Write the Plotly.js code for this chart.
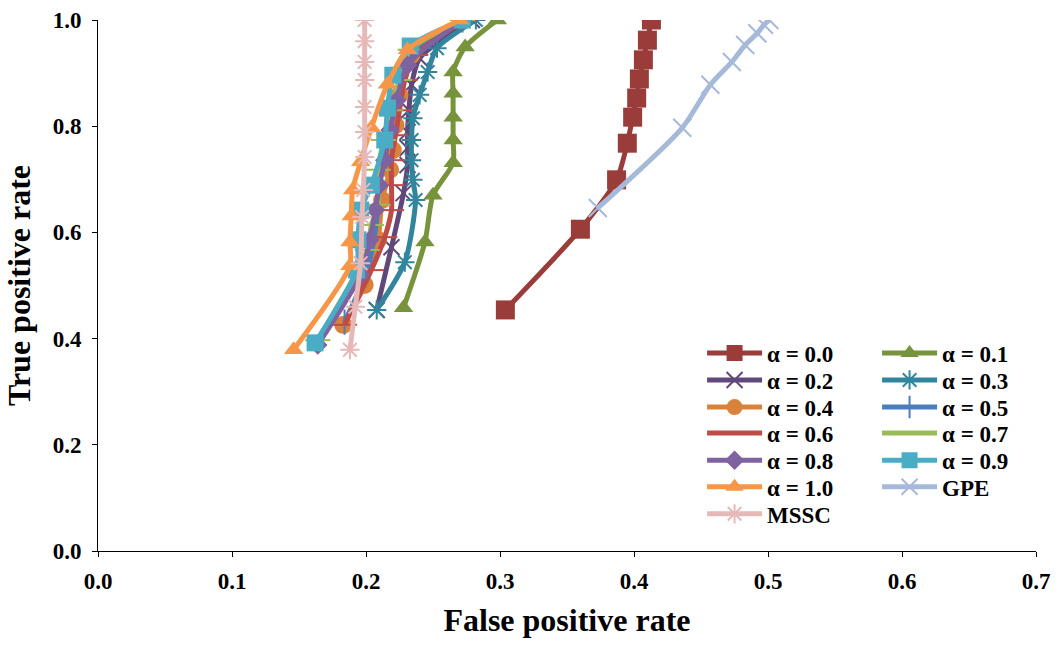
<!DOCTYPE html>
<html><head><meta charset="utf-8">
<script src="https://cdn.plot.ly/plotly-3.0.1.min.js"></script>
<style>html,body{margin:0;padding:0;background:#fff}#chart{width:1059px;height:648px}</style>
</head><body><div id="chart"></div>
<script>
// series data (false positive rate, true positive rate)
const a00_x = [0.304,0.360,0.387,0.395,0.399,0.402,0.404,0.407,0.410,0.413];
const a00_y = [0.454,0.606,0.699,0.768,0.817,0.853,0.889,0.925,0.962,1.000];
const a01_x = [0.228,0.244,0.250,0.265,0.265,0.265,0.265,0.265,0.274,0.298];
const a01_y = [0.458,0.582,0.670,0.731,0.774,0.817,0.862,0.902,0.949,1.000];
const a02_x = [0.208,0.219,0.228,0.231,0.231,0.231,0.232,0.234,0.240,0.279];
const a02_y = [0.454,0.572,0.674,0.727,0.759,0.789,0.830,0.878,0.928,1.000];
const a03_x = [0.208,0.229,0.237,0.235,0.234,0.234,0.235,0.240,0.246,0.253,0.282];
const a03_y = [0.454,0.544,0.661,0.699,0.736,0.774,0.815,0.859,0.902,0.947,1.000];
const a04_x = [0.183,0.199,0.209,0.212,0.218,0.220,0.222,0.225,0.234,0.272];
const a04_y = [0.426,0.501,0.586,0.661,0.718,0.755,0.802,0.859,0.934,1.000];
const a05_x = [0.184,0.201,0.207,0.209,0.210,0.212,0.216,0.222,0.231,0.272];
const a05_y = [0.431,0.529,0.605,0.652,0.699,0.736,0.793,0.849,0.925,1.000];
const a06_x = [0.184,0.204,0.214,0.219,0.219,0.219,0.222,0.225,0.229,0.237,0.274];
const a06_y = [0.426,0.529,0.591,0.642,0.689,0.736,0.783,0.830,0.887,0.934,1.000];
const a07_x = [0.164,0.192,0.201,0.204,0.209,0.209,0.213,0.218,0.225,0.233,0.272];
const a07_y = [0.397,0.520,0.567,0.614,0.652,0.718,0.774,0.830,0.887,0.944,1.000];
const a08_x = [0.164,0.196,0.203,0.207,0.210,0.214,0.218,0.223,0.231,0.272];
const a08_y = [0.388,0.520,0.586,0.642,0.689,0.736,0.793,0.849,0.915,1.000];
const a09_x = [0.162,0.193,0.194,0.196,0.204,0.214,0.216,0.220,0.233,0.272];
const a09_y = [0.392,0.529,0.586,0.642,0.689,0.774,0.834,0.896,0.951,1.000];
const a10_x = [0.146,0.188,0.188,0.189,0.190,0.196,0.204,0.216,0.231,0.270];
const a10_y = [0.379,0.537,0.582,0.631,0.680,0.733,0.797,0.879,0.944,1.000];
const gpe_x = [0.373,0.436,0.457,0.473,0.483,0.492,0.497,0.501];
const gpe_y = [0.646,0.797,0.878,0.921,0.953,0.975,0.991,1.000];
const mssc_x = [0.188,0.192,0.196,0.197,0.198,0.199,0.199,0.199,0.199,0.199,0.199,0.199];
const mssc_y = [0.379,0.460,0.542,0.629,0.680,0.742,0.789,0.836,0.887,0.921,0.960,1.000];
const names = ['α = 0.0','α = 0.1','α = 0.2','α = 0.3','α = 0.4','α = 0.5','α = 0.6','α = 0.7','α = 0.8','α = 0.9','α = 1.0','GPE','MSSC'];
const xticks = [0,0.1,0.2,0.3,0.4,0.5,0.6,0.7];
const yticks = [0,0.2,0.4,0.6,0.8,1.0];

const series = [
 [a00_x,a00_y,'#9A3D3A','square',19,true],
 [a01_x,a01_y,'#77933C','triangle-up',17,true],
 [a02_x,a02_y,'#60497A','x-thin',16,false],
 [a03_x,a03_y,'#31859C','asterisk-open',16,false],
 [a04_x,a04_y,'#D9823B','circle',18,true],
 [a05_x,a05_y,'#4A7EBB','line-ns',18,false],
 [a06_x,a06_y,'#BE4B48','line-ew',18,false],
 [a07_x,a07_y,'#9BBB59','line-ew',18,false],
 [a08_x,a08_y,'#7F63A0','diamond',15,true],
 [a09_x,a09_y,'#4BACC6','square',17,true],
 [a10_x,a10_y,'#F79646','triangle-up',17,true],
 [gpe_x,gpe_y,'#A6B9D8','x-thin',18,false],
 [mssc_x,mssc_y,'#E6B9B8','asterisk-open',16,false]
];
const legendIds = ['legend','legend2','legend3','legend4','legend5','legend6','legend7'];
const traces = series.map((s,i)=>({
  x:s[0], y:s[1], name:names[i], type:'scatter', mode:'lines+markers',
  line:{color:s[2], width:5, shape:'spline', smoothing:0.7},
  marker: s[5] ? {symbol:s[3], size:s[4], color:s[2], line:{width:0}}
               : {symbol:s[3], size:s[4], color:s[2], line:{color:s[2], width:2}},
  legend:legendIds[Math.floor(i/2)]
}));
const font = 'Liberation Serif, Times New Roman, serif';
const legendFont = {family:font, size:23, color:'#000', weight:'bold'};
const rowY = [0.373,0.322,0.271,0.222,0.171,0.121,0.070];
const layout = {
  width:1059, height:648,
  margin:{l:98, r:23, t:20, b:97, autoexpand:false},
  paper_bgcolor:'#fff', plot_bgcolor:'#fff',
  showlegend:true,
  xaxis:{range:[0,0.7], tickvals:xticks, ticktext:xticks.map(v=>v.toFixed(1)),
    showgrid:false, zeroline:false, showline:true, linecolor:'#000', linewidth:1,
    ticks:'outside', ticklen:5, tickcolor:'#000', ticklabelstandoff:4,
    tickfont:{family:font, size:23, color:'#000', weight:'bold'},
    title:{text:'False positive rate', font:{family:font, size:32, color:'#000', weight:'bold'}, standoff:16}},
  yaxis:{range:[0,1], tickvals:yticks, ticktext:yticks.map(v=>v.toFixed(1)),
    showgrid:false, zeroline:false, showline:true, linecolor:'#000', linewidth:1,
    ticks:'outside', ticklen:5, tickcolor:'#000', ticklabelstandoff:6,
    tickfont:{family:font, size:23, color:'#000', weight:'bold'},
    title:{text:'True positive rate', font:{family:font, size:32, color:'#000', weight:'bold'}, standoff:12}}
};
legendIds.forEach((id,k)=>{
  layout[id] = {x:0.644, y:rowY[k], xanchor:'left', yanchor:'middle', orientation:'h',
    bgcolor:'rgba(0,0,0,0)', font:legendFont, itemwidth:55,
    entrywidth:105, entrywidthmode:'pixels', tracegroupgap:0};
});
Plotly.newPlot('chart', traces, layout, {displayModeBar:false, staticPlot:true});
</script></body></html>
